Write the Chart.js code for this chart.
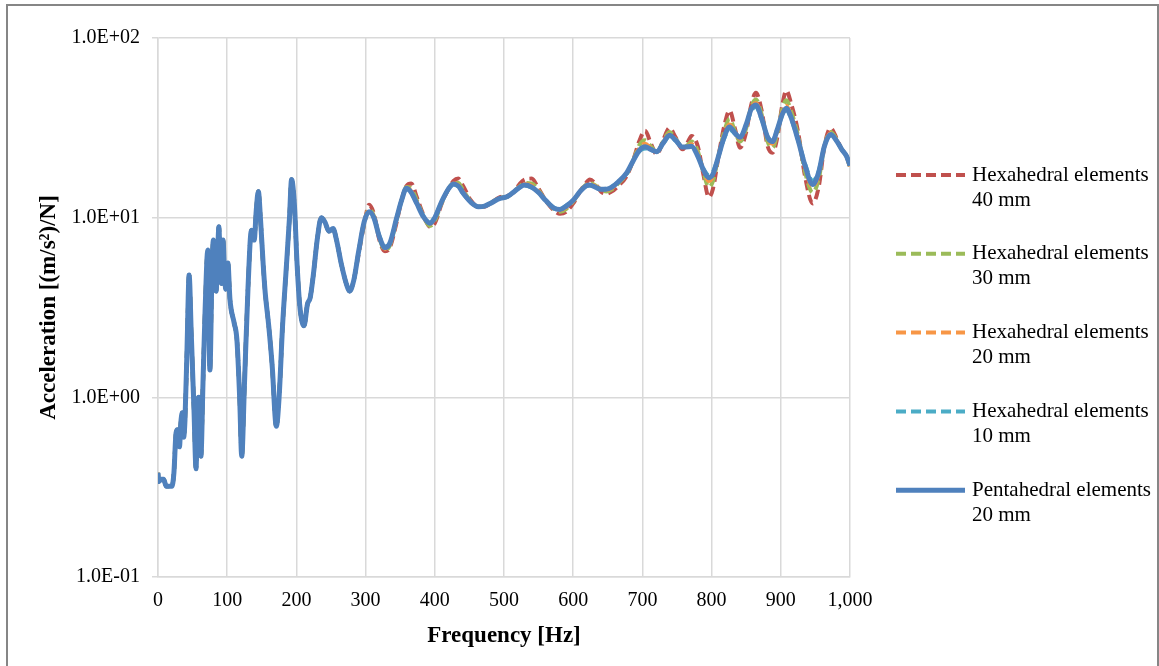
<!DOCTYPE html>
<html>
<head>
<meta charset="utf-8">
<script src="https://cdn.jsdelivr.net/npm/chart.js@4.4.0/dist/chart.umd.min.js"></script>
<style>
  html, body { margin: 0; padding: 0; background: #fff; }
  #usageChart { display: block; }
</style>
</head>
<body>
<canvas id="usageChart" width="1159" height="666"></canvas>
<script>
// --- Data ---

// Frequencies (Hz) below 290 Hz: all five curves lie on top of each other here
const freqLow = [0,1,5,8,12,20,23,26,28,31,33,35,37,39,42,45,48,52,55,57,
  59,62,65,68,72,75,78,80,82,84,86,88,90,92,94,96,98,101,104,110,
  114,118,121,125,130,135,139,142,145,148,152,155,160,165,171,175,180,185,190,193,
  197,201,205,211,216,220,225,230,236,241,247,253,258,265,272,277,283];

// Shared accelerance values for the low band, (m/s2)/N
const lowBand = [0.38,0.34,0.35,0.35,0.32,0.32,0.38,0.63,0.66,0.53,
  0.72,0.82,0.6,0.75,1.9,4.8,2.3,0.85,0.4,0.9,
  1.0,0.47,1.2,3.0,6.6,1.42,5.0,7.5,4.5,3.9,
  6.0,8.9,5.0,4.3,7.5,5.0,4.0,5.6,3.5,2.6,
  2.1,1.0,0.47,1.2,4.0,8.5,7.5,11,14,10,
  5.5,3.8,2.5,1.5,0.69,1.0,2.5,5,10,16.3,
  12,5.5,3.2,2.5,3.3,3.6,5,7.5,10,9.5,
  8.4,8.7,7.5,5.5,4.3,3.9,4.5];

// Frequencies (Hz) from 290 Hz up, where the meshes start to differ
const freqHigh = [290,298,305,312,320,328,335,345,352,359,366,374,383,393,400,410,420,427,434,441,
  452,463,472,480,494,505,515,523,530,540,550,560,572,581,590,600,610,618,624,632,
  640,648,656,665,677,686,696,704,712,721,730,739,748,758,766,771,780,788,796,802,
  810,818,826,834,841,850,857,864,872,881,888,895,902,908,915,925,935,946,955,963,
  972,980,988,995,1000];

const hexa40High = [6.3,9.2,11.8,10.5,7.5,6.5,6.8,9.5,12.5,15,
  15.5,13,10.5,8.9,9.3,12,14.5,16,16.5,15,
  12.5,11.5,11.5,12,13,13.2,14,15.5,16.3,16.5,
  14.5,12.5,11,10.5,10.8,12,14,15.5,16.3,15.5,
  14,13.6,14,15,17,20.5,27,30.5,26,22.5,
  27,31.5,28,24,26.5,28.5,25,17.5,13,14.5,
  22,32,39.5,31,24.5,30,42,49.5,40,25,
  23,28,42,51,43,30,17,12,15,25,
  31.5,28,24,22,19];

const hexa30High = [6.4,9.3,11.2,10.2,7.7,6.6,7,9.8,12.5,14.8,
  14.5,12.5,10.3,9,9.6,12.1,14.5,15.6,15.6,14.2,
  12.3,11.5,11.5,12,12.9,13.1,14,15,15.6,15.5,
  14.2,12.5,11.2,10.8,11.2,12.3,14,15.2,15.6,15.1,
  14.3,14,14.4,15.5,17.4,20.5,25.5,27,25,23,
  26.5,30,27.5,24.5,25.5,26.5,23.5,18,14.8,16,
  22,30,35.5,30,26.5,31.5,41,45.5,38,26.5,
  24.5,29.5,40,45,39,28.5,18,13.8,16.5,25,
  30,27.5,24,22,19];

const hexa20High = [6.5,9.5,11,10.1,7.8,6.7,7.1,9.9,12.5,14.7,
  14,12.2,10.2,9.2,9.9,12.2,14.5,15.5,15.2,13.9,
  12.2,11.5,11.6,12,12.8,13.1,14,14.9,15.4,15.1,
  14,12.5,11.3,11,11.4,12.4,14,15.1,15.4,15,
  14.4,14.2,14.6,15.7,17.6,20.5,24.5,25.8,24.5,23.2,
  26.2,29.2,27.2,24.6,25,25.6,22.6,18.3,16,17,
  22,28.8,33,29.8,27.5,32.5,40.5,43.5,36.8,27.5,
  25.8,30.5,38.5,42,37,27.5,19,14.8,17.5,25,
  29.5,27.2,24,22,19.3];

const hexa10High = [6.5,9.5,10.7,10,7.9,6.9,7.2,10,12.5,14.5,
  13.7,12,10.3,9.4,10.1,12.3,14.4,15.3,14.9,13.6,
  12.2,11.5,11.6,12,12.8,13.1,14,14.7,15.1,14.7,
  13.8,12.5,11.4,11.2,11.7,12.5,14,14.9,15.1,14.7,
  14.4,14.5,14.9,15.8,17.6,20.5,23.5,24.3,23.8,23.4,
  25.8,28.3,26.8,24.8,24.8,24.8,22.2,18.8,17.3,18,
  22,27.5,31,29.2,28,32.5,39,41.5,35.5,28.2,
  26.8,31,37,39.8,35.5,27,20,16,18.3,25,
  28.7,27,24,22,19.5];

const penta20High = [6.5,9.5,10.8,10,7.8,6.8,7.2,10,12.5,14.6,
  13.8,12,10.2,9.3,10,12.3,14.5,15.4,15,13.7,
  12.2,11.5,11.6,12,12.8,13.1,14,14.8,15.2,14.8,
  13.8,12.5,11.3,11.1,11.6,12.5,14,15,15.2,14.8,
  14.4,14.4,14.8,15.8,17.7,20.5,23.8,24.8,24,23.3,
  26,28.8,27,24.7,24.8,25,22,18.5,16.7,17.5,
  22,28,32,29.5,28,33,40,42.4,36,28,
  26.5,31,37.5,40.6,36,27,19.5,15.3,18,25,
  29,27,24,22,19.5];

const seriesNames = [
  ['Hexahedral elements', '40 mm'],
  ['Hexahedral elements', '30 mm'],
  ['Hexahedral elements', '20 mm'],
  ['Hexahedral elements', '10 mm'],
  ['Pentahedral elements', '20 mm']
];
const seriesColors = ['#C0504D', '#9BBB59', '#F79646', '#4BACC6', '#4F81BD'];

const xTickValues = [0,100,200,300,400,500,600,700,800,900,1000];
const yTickValues = [0.1, 1, 10, 100];
const yTickLabels = ['1.0E-01', '1.0E+00', '1.0E+01', '1.0E+02'];

// --- Helpers ---
const allFreqs = freqLow.concat(freqHigh);
function toPoints(highValues) {
  const vals = lowBand.concat(highValues);
  return allFreqs.map((f, i) => ({ x: f, y: vals[i] }));
}

function makeDataset(idx, values, dashed) {
  return {
    label: seriesNames[idx].join(' '),
    data: toPoints(values),
    borderColor: seriesColors[idx],
    backgroundColor: seriesColors[idx],
    borderWidth: dashed ? 4 : 5,
    borderDash: dashed ? [10, 5] : [],
    pointRadius: 0,
    cubicInterpolationMode: 'monotone',
    order: 5 - idx
  };
}

// white page + grey frame round the whole chart
const framePlugin = {
  id: 'frame',
  beforeDraw(chart) {
    const ctx = chart.ctx;
    ctx.save();
    ctx.fillStyle = '#fff';
    ctx.fillRect(0, 0, chart.width, chart.height);
    ctx.strokeStyle = '#868686';
    ctx.lineWidth = 2;
    ctx.strokeRect(7, 5, 1151, 700);
    ctx.restore();
  }
};

// two-line legend on the right, drawn from the datasets' own styles
const legendPlugin = {
  id: 'sideLegend',
  afterDraw(chart) {
    const ctx = chart.ctx;
    ctx.save();
    chart.data.datasets.forEach((ds, i) => {
      const y = 175 + i * 78.8;
      ctx.beginPath();
      ctx.strokeStyle = ds.borderColor;
      ctx.lineWidth = ds.borderWidth;
      ctx.setLineDash(ds.borderDash);
      ctx.moveTo(896, y);
      ctx.lineTo(965, y);
      ctx.stroke();
      ctx.setLineDash([]);
      ctx.fillStyle = '#000';
      ctx.font = '21px "Liberation Serif", "Times New Roman", serif';
      ctx.textBaseline = 'middle';
      ctx.textAlign = 'left';
      seriesNames[i].forEach((line, k) => ctx.fillText(line, 972, y + k * 25));
    });
    ctx.restore();
  }
};

const ctx = document.getElementById('usageChart').getContext('2d');
const usageChart = new Chart(ctx, {
  type: 'line',
  data: {
    datasets: [
      makeDataset(0, hexa40High, true),
      makeDataset(1, hexa30High, true),
      makeDataset(2, hexa20High, true),
      makeDataset(3, hexa10High, true),
      makeDataset(4, penta20High, false)
    ]
  },
  options: {
    responsive: false,
    animation: false,
    devicePixelRatio: 1,
    layout: { padding: { left: 8, right: 309, top: 38, bottom: 0 } },
    plugins: {
      legend: { display: false },
      tooltip: { enabled: false }
    },
    scales: {
      x: {
        type: 'linear',
        min: 0,
        max: 1000,
        afterBuildTicks: s => { s.ticks = xTickValues.map(v => ({ value: v })); },
        afterFit: s => { s.height = 89; },
        ticks: {
          padding: 12,
          color: '#000',
          font: { family: '"Liberation Serif", "Times New Roman", serif', size: 20 },
          callback: v => v.toLocaleString('en-US')
        },
        grid: { color: '#d9d9d9', lineWidth: 1.5, drawTicks: false },
        border: { color: '#d9d9d9', width: 1.5 },
        title: {
          display: true,
          text: 'Frequency [Hz]',
          color: '#000',
          padding: { top: 0, bottom: 16 },
          font: { family: '"Liberation Serif", "Times New Roman", serif', size: 23, weight: 'bold' }
        }
      },
      y: {
        type: 'logarithmic',
        min: 0.1,
        max: 100,
        afterBuildTicks: s => { s.ticks = yTickValues.map(v => ({ value: v })); },
        afterFit: s => { s.width = 150; },
        ticks: {
          padding: 12,
          color: '#000',
          font: { family: '"Liberation Serif", "Times New Roman", serif', size: 20 },
          callback: v => yTickLabels[yTickValues.indexOf(v)]
        },
        grid: { color: '#d9d9d9', lineWidth: 1.5, drawTicks: true, tickLength: 6 },
        border: { color: '#d9d9d9', width: 1.5 },
        title: {
          display: true,
          text: 'Acceleration [(m/s²)/N]',
          color: '#000',
          padding: { top: 27, bottom: 0 },
          font: { family: '"Liberation Serif", "Times New Roman", serif', size: 23, weight: 'bold' }
        }
      }
    }
  },
  plugins: [framePlugin, legendPlugin]
});
</script>
</body>
</html>
